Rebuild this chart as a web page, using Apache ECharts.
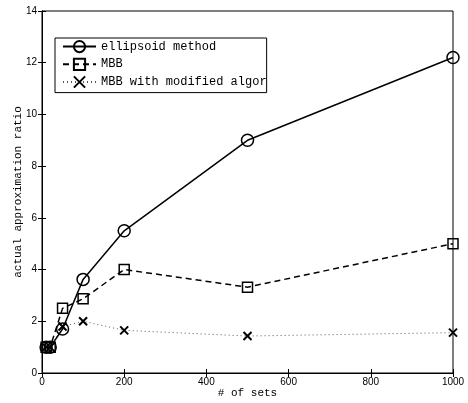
<!DOCTYPE html>
<html>
<head>
<meta charset="utf-8">
<script src="https://cdn.jsdelivr.net/npm/echarts@6/dist/echarts.min.js"></script>
<style>
  html, body { margin: 0; padding: 0; background: #fff; }
  #chart { width: 468px; height: 403px; }
</style>
</head>
<body>
<div id="chart"></div>
<script>
const sets = [10, 20, 50, 100, 200, 500, 1000];
const ellipsoid = [1, 1, 1.7, 3.62, 5.5, 9, 12.2];
const mbb = [1, 1, 2.5, 2.87, 4, 3.32, 5];
const mbbModified = [1, 1, 1.8, 2, 1.65, 1.43, 1.56];
const xTicks = [0, 200, 400, 600, 800, 1000];
const yTicks = [0, 2, 4, 6, 8, 10, 12, 14];

const pairs = ys => sets.map((x, i) => [x, ys[i]]);
const mono = 'Liberation Mono';
const sans = 'Liberation Sans';
const crossPath = 'path://M0,0L10,10M0,10L10,0';

const chart = echarts.init(document.getElementById('chart'), null, { renderer: 'canvas' });

const option = {
  backgroundColor: '#fff',
  animation: false,
  grid: {
    left: 42, right: 15, top: 11, bottom: 30,
    outerBoundsMode: 'none', containLabel: false,
    show: true, borderColor: '#000', borderWidth: 1
  },
  legend: {
    orient: 'vertical',
    left: 55,
    top: 38,
    padding: [2, 0, 4, 7],
    itemGap: 4.5,
    itemWidth: 33,
    itemHeight: 14,
    backgroundColor: '#fff',
    borderColor: '#000',
    borderWidth: 1,
    textStyle: { fontFamily: mono, fontSize: 12, color: '#000', width: 168, overflow: 'truncate', ellipsis: '' },
    data: ['ellipsoid method', 'MBB', 'MBB with modified algorithm']
  },
  xAxis: [{
    type: 'value', min: 0, max: 1000, interval: 200,
    name: '# of sets', nameLocation: 'middle', nameGap: 15, nameMoveOverlap: false,
    nameTextStyle: { fontFamily: mono, fontSize: 11, color: '#000' },
    axisLine: { show: true, lineStyle: { color: '#000', width: 1 } },
    axisTick: { show: true, inside: true, length: 4, lineStyle: { color: '#000' } },
    axisLabel: { fontFamily: sans, fontSize: 10, color: '#000', margin: 4,
      formatter: v => xTicks.includes(v) ? String(v) : '' },
    splitLine: { show: false }
  }, {
    type: 'value', position: 'top', min: 0, max: 1000, interval: 200,
    axisLine: { show: true, lineStyle: { color: '#000' } },
    axisTick: { show: true, inside: true, length: 4, lineStyle: { color: '#000' } },
    axisLabel: { show: false }, splitLine: { show: false }
  }],
  yAxis: [{
    type: 'value', min: 0, max: 14, interval: 2,
    name: 'actual approximation ratio', nameLocation: 'middle', nameGap: 18, nameMoveOverlap: false,
    nameTextStyle: { fontFamily: mono, fontSize: 11, color: '#000' },
    axisLine: { show: true, lineStyle: { color: '#000', width: 1 } },
    axisTick: { show: true, inside: true, length: 4, lineStyle: { color: '#000' } },
    axisLabel: { fontFamily: sans, fontSize: 10, color: '#000', margin: 5,
      formatter: v => yTicks.includes(v) ? String(v) : '' },
    splitLine: { show: false }
  }, {
    type: 'value', position: 'right', min: 0, max: 14, interval: 2,
    axisLine: { show: true, lineStyle: { color: '#000' } },
    axisTick: { show: true, inside: true, length: 4, lineStyle: { color: '#000' } },
    axisLabel: { show: false }, splitLine: { show: false }
  }],
  series: [
    {
      name: 'ellipsoid method', type: 'line', data: pairs(ellipsoid),
      symbol: 'circle', symbolSize: 12,
      lineStyle: { color: '#000', width: 1.5, type: 'solid' },
      itemStyle: { color: 'rgba(0,0,0,0)', borderColor: '#000', borderWidth: 1.5 }
    },
    {
      name: 'MBB', type: 'line', data: pairs(mbb),
      symbol: 'rect', symbolSize: 10,
      lineStyle: { color: '#000', width: 1.5, type: [6, 4] },
      itemStyle: { color: 'rgba(0,0,0,0)', borderColor: '#000', borderWidth: 1.5 }
    },
    {
      name: 'MBB with modified algorithm', type: 'line', data: pairs(mbbModified),
      symbol: crossPath, symbolSize: 8,
      lineStyle: { color: '#555', width: 1, type: [1, 3] },
      itemStyle: { color: 'rgba(0,0,0,0)', borderColor: '#000', borderWidth: 2 }
    }
  ]
};

chart.setOption(option);
</script>
</body>
</html>
